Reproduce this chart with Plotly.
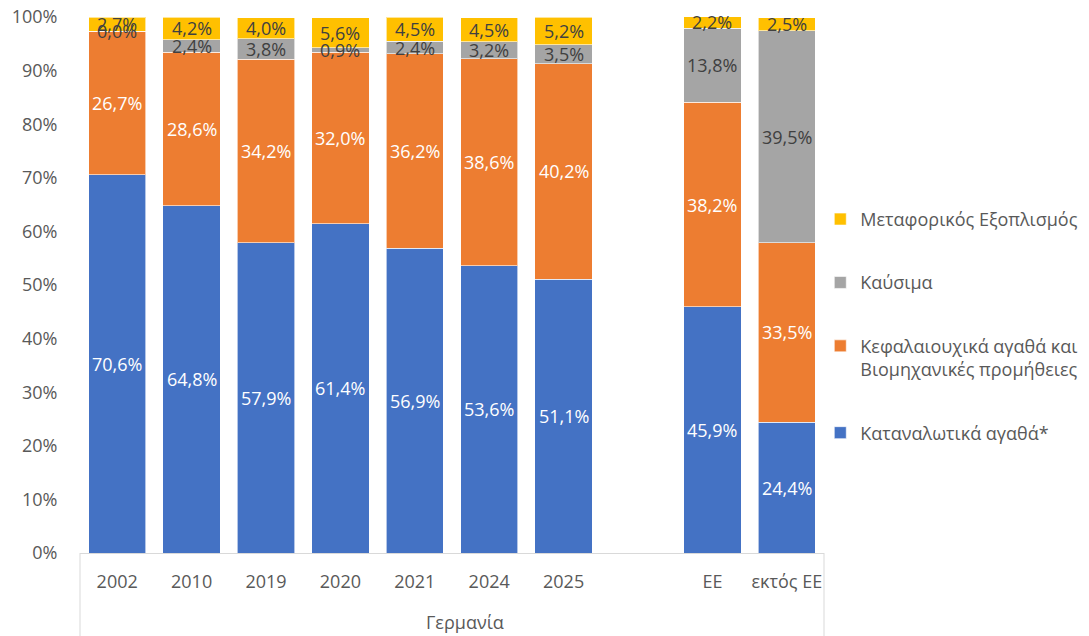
import plotly.graph_objects as go

categories = ["2002", "2010", "2019", "2020", "2021", "2024", "2025", "ΕΕ", "εκτός ΕΕ"]
slot_index = [0, 1, 2, 3, 4, 5, 6, 8, 9]  # one empty slot between the groups

consumer = [70.6, 64.8, 57.9, 61.4, 56.9, 53.6, 51.1, 45.9, 24.4]
capital = [26.7, 28.6, 34.2, 32.0, 36.2, 38.6, 40.2, 38.2, 33.5]
fuels = [0.0, 2.4, 3.8, 0.9, 2.4, 3.2, 3.5, 13.8, 39.5]
transport = [2.7, 4.2, 4.0, 5.6, 4.5, 4.5, 5.2, 2.2, 2.5]

y_ticks = list(range(0, 101, 10))
y_tick_labels = [f"{t}%" for t in y_ticks]

series = [
    ("Καταναλωτικά αγαθά*", consumer, "#4472C4", "white"),
    ("Κεφαλαιουχικά αγαθά και<br>Βιομηχανικές προμήθειες", capital, "#ED7D31", "white"),
    ("Καύσιμα", fuels, "#A5A5A5", "#404040"),
    ("Μεταφορικός Εξοπλισμός", transport, "#FFC000", "#404040"),
]

FONT = "Open Sans"
fig = go.Figure()
annotations = []
base = [0.0] * len(categories)
for i, (name, vals, color, tcolor) in enumerate(series):
    fig.add_trace(go.Bar(
        x=slot_index, y=vals, name=name, legendgroup=f"g{i}",
        legendrank=1000 - i,
        marker=dict(color=color, line=dict(color="rgba(255,255,255,0.6)", width=1)),
        width=0.77, hoverinfo="skip",
    ))
    for j, v in enumerate(vals):
        annotations.append(dict(
            x=slot_index[j], y=base[j] + v / 2, xref="x", yref="y",
            text=f"{v:.1f}".replace(".", ",") + "%", showarrow=False,
            font=dict(family=FONT, size=18, color=tcolor),
        ))
        base[j] += v

annotations.append(dict(
    x=0.517, y=-0.129, xref="paper", yref="paper", text="Γερμανία",
    showarrow=False, yanchor="middle", font=dict(family=FONT, size=18, color="#595959"),
))

shapes = [
    dict(type="line", xref="paper", yref="paper", x0=0, x1=0, y0=0, y1=-0.16,
         line=dict(color="#D9D9D9", width=1)),
    dict(type="line", xref="paper", yref="paper", x0=1, x1=1, y0=0, y1=-0.16,
         line=dict(color="#D9D9D9", width=1)),
]

fig.update_layout(
    width=1089, height=636,
    barmode="stack",
    plot_bgcolor="white", paper_bgcolor="white",
    margin=dict(l=80, r=265, t=17, b=83, autoexpand=False),
    font=dict(family=FONT, size=18, color="#595959"),
    annotations=annotations, shapes=shapes,
    legend=dict(
        x=0.995, y=0.657, xanchor="left", yanchor="top",
        traceorder="grouped", tracegroupgap=37, valign="top",
        font=dict(family=FONT, size=18, color="#595959"),
    ),
    xaxis=dict(
        tickmode="array", tickvals=slot_index, ticktext=categories,
        range=[-0.5, 9.5], showgrid=False, zeroline=False, automargin=False,
        showline=True, linecolor="#D9D9D9", linewidth=1,
        ticks="outside", ticklen=12, tickcolor="rgba(0,0,0,0)",
        tickfont=dict(family=FONT, size=18, color="#595959"),
    ),
    yaxis=dict(
        range=[0, 100], tickmode="array", tickvals=y_ticks, ticktext=y_tick_labels,
        showgrid=False, zeroline=False, showline=False, automargin=False,
        ticks="outside", ticklen=18, tickcolor="rgba(0,0,0,0)",
        tickfont=dict(family=FONT, size=18, color="#595959"),
    ),
)

fig.write_html(
    "out.html",
    config={"displayModeBar": False},
    post_script="document.body.style.margin='0';document.body.style.overflow='hidden';",
)
